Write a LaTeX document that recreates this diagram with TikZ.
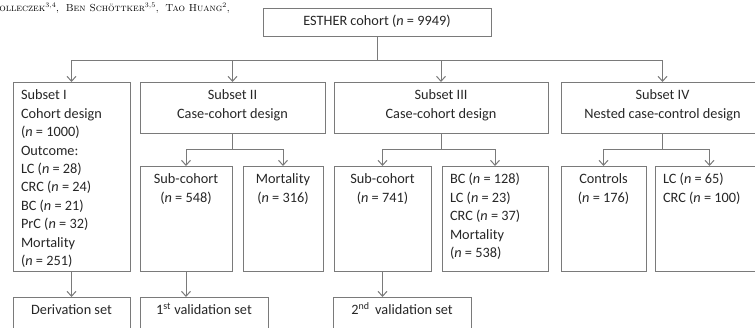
\documentclass[tikz,border=0pt]{standalone}
\usepackage{fontspec}
\newfontfamily\calibri{Carlito}
\usetikzlibrary{arrows.meta}

\definecolor{linegray}{HTML}{7A7A7A}
\definecolor{textgray}{HTML}{262626}

% n in italics, and a box with its text set at the top
\newcommand{\nn}{\textit{n}}
\newcommand{\cellbox}[3]{\parbox[t][\dimexpr#2pt-10pt][t]{\dimexpr#1pt-16pt}{\strut#3}}

\tikzset{
    box/.style={draw=linegray, line width=1pt, anchor=north west, outer sep=0pt,
        inner xsep=8pt, inner ysep=5pt, text=textgray,
        font=\calibri\fontsize{14.3}{18.4}\selectfont},
    link/.style={draw=linegray, line width=1pt},
    arrow/.style={link, -{Straight Barb[length=5pt,width=9pt]}},
}

\begin{document}
\begin{tikzpicture}[x=1pt, y=-1pt]
    \useasboundingbox (0,0) rectangle (755,327);
    \clip (0,0) rectangle (755,327);

    % header line of the page
    \node[anchor=base east, inner sep=0pt, font=\fontsize{10.2}{12}\selectfont] (authors) at (230,11)
        {\textsc{Holleczek}$^{3,4}$, \ \textsc{Ben Sch\"ottker}$^{3,5}$, \ \textsc{Tao Huang}$^{2}$,};

    % boxes
    \node[box] (esther) at (263,8) {\cellbox{228}{28}{\centering ESTHER cohort (\nn{} = 9949)}};

    \node[box] (subI) at (13,82) {\cellbox{117}{189}{Subset I\\Cohort design\\(\nn{} = 1000)\\Outcome:\\
        LC (\nn{} = 28)\\CRC (\nn{} = 24)\\BC (\nn{} = 21)\\PrC (\nn{} = 32)\\Mortality\\(\nn{} = 251)}};
    \node[box] (subII) at (140,82) {\cellbox{185}{51}{\centering Subset II\\Case-cohort design}};
    \node[box] (subIII) at (334,82) {\cellbox{214}{51}{\centering Subset III\\Case-cohort design}};
    \node[box] (subIV) at (561,82) {\cellbox{203}{51}{\centering Subset IV\\Nested case-control design}};

    \node[box] (coh2) at (140,166) {\cellbox{92}{105}{\centering Sub-cohort\\(\nn{} = 548)}};
    \node[box] (mort2) at (243,166) {\cellbox{80}{105}{\centering Mortality\\(\nn{} = 316)}};
    \node[box] (coh3) at (334,166) {\cellbox{97}{105}{\centering Sub-cohort\\(\nn{} = 741)}};
    \node[box] (cases3) at (442,166) {\cellbox{106}{105}{BC (\nn{} = 128)\\LC (\nn{} = 23)\\CRC (\nn{} = 37)\\Mortality\\(\nn{} = 538)}};
    \node[box] (ctrl4) at (561,166) {\cellbox{85}{105}{\centering Controls\\(\nn{} = 176)}};
    \node[box] (cases4) at (655,166) {\cellbox{109}{105}{LC (\nn{} = 65)\\CRC (\nn{} = 100)}};

    \node[box] (deriv) at (13,297) {\cellbox{117}{40}{\centering Derivation set}};
    \node[box] (valid1) at (140,297) {\cellbox{128}{40}{\centering 1\textsuperscript{st} validation set}};
    \node[box] (valid2) at (333,297) {\cellbox{138}{40}{\centering 2\textsuperscript{nd}\ \,validation set}};

    % connectors
    \coordinate (bus) at (377,60);
    \coordinate (bus2) at (0,149);
    \draw[link] (esther.south) -- (bus);
    \draw[link] (subI.north |- bus) -- (subIV.north |- bus);
    \foreach \s in {subI,subII,subIII,subIV}
        \draw[arrow] (\s.north |- bus) -- (\s.north);

    \draw[link] (subII.south) -- (subII.south |- bus2);
    \draw[link] (coh2.north |- bus2) -- (mort2.north |- bus2);
    \draw[link] (subIII.south) -- (subIII.south |- bus2);
    \draw[link] (coh3.north |- bus2) -- (cases3.north |- bus2);
    \draw[link] (subIV.south) -- (subIV.south |- bus2);
    \draw[link] (ctrl4.north |- bus2) -- (cases4.north |- bus2);
    \foreach \s in {coh2,mort2,coh3,cases3,ctrl4,cases4}
        \draw[arrow] (\s.north |- bus2) -- (\s.north);

    \draw[arrow] (subI.south) -- (deriv.north);
    \draw[arrow] (coh2.south) -- (coh2.south |- valid1.north);
    \draw[arrow] (coh3.south) -- (coh3.south |- valid2.north);
\end{tikzpicture}
\end{document}
